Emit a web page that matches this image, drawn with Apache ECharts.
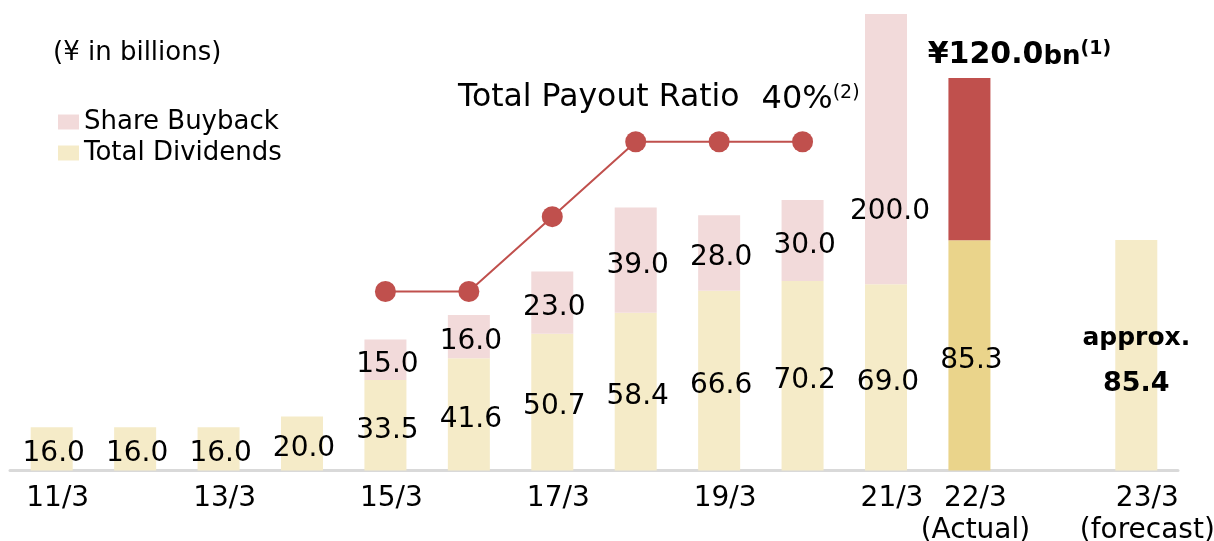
<!DOCTYPE html>
<html>
<head>
<meta charset="utf-8">
<script src="https://cdn.jsdelivr.net/npm/echarts@6/dist/echarts.min.js"></script>
<style>
  html, body { margin: 0; padding: 0; background: #ffffff; }
  #chart { width: 1214px; height: 541px; }
</style>
</head>
<body>
<div id="chart"></div>
<script>
// Fiscal years (March year-end); the blank slot separates actuals from the forecast
const categories = ['11/3', '12/3', '13/3', '14/3', '15/3', '16/3', '17/3', '18/3', '19/3', '20/3', '21/3', '22/3', '', '23/3'];
const tickLabels = ['11/3', '', '13/3', '', '15/3', '', '17/3', '', '19/3', '', '21/3', '22/3\n(Actual)', '', '23/3\n(forecast)'];

// ¥ in billions
const totalDividends = [16.0, 16.0, 16.0, 20.0, 33.5, 41.6, 50.7, 58.4, 66.6, 70.2, 69.0, 85.3, null, 85.4];
const shareBuyback = [null, null, null, null, 15.0, 16.0, 23.0, 39.0, 28.0, 30.0, 200.0, 120.0, null, null];

// Total payout ratio, %
const payoutRatio = [null, null, null, null, 20, 20, 30, 40, 40, 40, null, null, null, null];

const FONT = 'DejaVu Sans';
const C_DIV = '#F5EBC8';
const C_DIV_HI = '#EAD48B';
const C_BUY = '#F2DADA';
const C_BUY_HI = '#C0504D';
const C_LINE = '#C0504D';

const fmt = v => Number(v).toFixed(1);

const ACTUAL_IDX = categories.indexOf('22/3');
const FORECAST_IDX = categories.indexOf('23/3');
const BIG_BUYBACK_IDX = categories.indexOf('21/3');
const LAST_RATIO_IDX = payoutRatio.reduce((acc, v, i) => (v != null ? i : acc), -1);

const dividendData = totalDividends.map((v, i) => {
  if (v == null) return null;
  const item = { value: v };
  if (i === ACTUAL_IDX) item.itemStyle = { color: C_DIV_HI };
  if (i === FORECAST_IDX) {
    item.label = {
      formatter: () => '{a|approx.}\n{b|' + fmt(v) + '}',
      offset: [0, 6],
      rich: {
        a: { fontFamily: FONT, fontSize: 25, fontWeight: 'bold', color: '#000', lineHeight: 45 },
        b: { fontFamily: FONT, fontSize: 27, fontWeight: 'bold', color: '#000', lineHeight: 45 }
      }
    };
  }
  return item;
});

const buybackData = shareBuyback.map((v, i) => {
  if (v == null) return null;
  const item = { value: v };
  if (i === BIG_BUYBACK_IDX) item.label = { offset: [4, 63] };
  if (i === ACTUAL_IDX) {
    item.itemStyle = { color: C_BUY_HI };
    item.label = {
      position: 'top',
      distance: 8,
      offset: [50, 0],
      formatter: () => '{a|¥' + fmt(v) + '}{b|bn}{c|(1)}',
      rich: {
        a: { fontFamily: FONT, fontSize: 30, fontWeight: 'bold', color: '#000', verticalAlign: 'bottom' },
        b: { fontFamily: FONT, fontSize: 26, fontWeight: 'bold', color: '#000', verticalAlign: 'bottom' },
        c: { fontFamily: FONT, fontSize: 19, fontWeight: 'bold', color: '#000', verticalAlign: 'top' }
      }
    };
  }
  return item;
});

const ratioData = payoutRatio.map((v, i) => {
  if (v == null) return null;
  const item = { value: v };
  if (i === LAST_RATIO_IDX) {
    item.label = {
      show: true,
      position: 'top',
      distance: 16,
      offset: [8, 0],
      formatter: () => '{p|' + v + '%}{s|(2)}',
      rich: {
        p: { fontFamily: FONT, fontSize: 32, color: '#000', verticalAlign: 'bottom' },
        s: { fontFamily: FONT, fontSize: 19, color: '#000', verticalAlign: 'top' }
      }
    };
  }
  return item;
});

const barLabel = {
  show: true,
  position: 'inside',
  offset: [2, 5],
  fontFamily: FONT,
  fontSize: 28,
  color: '#000',
  formatter: p => fmt(p.value)
};

const chart = echarts.init(document.getElementById('chart'), null, { renderer: 'canvas' });

chart.setOption({
  animation: false,
  backgroundColor: '#ffffff',
  textStyle: { fontFamily: FONT },
  grid: { left: 10, right: 36, top: 13, bottom: 70.5, containLabel: false, outerBoundsMode: 'none' },
  legend: {
    data: ['Share Buyback', 'Total Dividends'],
    orient: 'vertical',
    left: 58,
    top: 109,
    padding: 0,
    icon: 'rect',
    itemWidth: 21,
    itemHeight: 15,
    itemGap: 5,
    selectedMode: false,
    textStyle: { fontFamily: FONT, fontSize: 26, color: '#000' }
  },
  graphic: [
    {
      type: 'text', left: 53, top: 40,
      style: { text: '(¥ in billions)', fontFamily: FONT, fontSize: 26, fill: '#000' }
    },
    {
      type: 'text', left: 458, top: 82,
      style: { text: 'Total Payout Ratio', fontFamily: FONT, fontSize: 31.5, fill: '#000' }
    }
  ],
  xAxis: {
    type: 'category',
    data: categories,
    axisLine: { lineStyle: { color: '#D9D9D9', width: 3 } },
    axisTick: { show: false },
    axisLabel: {
      interval: 0,
      margin: 12,
      fontFamily: FONT,
      fontSize: 28,
      lineHeight: 32,
      color: '#000',
      formatter: (val, idx) => {
        const t = tickLabels[idx];
        if (!t) return '';
        const style = idx === FORECAST_IDX ? 'f' : 't';
        return t.split('\n').map(s => '{' + style + '|' + s + '}').join('\n');
      },
      rich: {
        t: { fontFamily: FONT, fontSize: 28, lineHeight: 32, color: '#000', padding: [0, 0, 0, 12] },
        f: { fontFamily: FONT, fontSize: 28, lineHeight: 32, color: '#000', padding: [0, 0, 0, 22] }
      }
    }
  },
  yAxis: [
    {
      type: 'value',
      show: false,
      min: 0,
      max: 270,
      // the two tallest stacks are compressed above 110
      breaks: [{ start: 110, end: 270, gap: 59.5 }],
      splitLine: { show: false }
    },
    {
      type: 'value',
      show: false,
      min: -3.9,
      max: 57.2,
      splitLine: { show: false }
    }
  ],
  series: [
    {
      name: 'Total Dividends',
      type: 'bar',
      stack: 'total',
      barWidth: 42,
      itemStyle: { color: C_DIV },
      label: barLabel,
      data: dividendData
    },
    {
      name: 'Share Buyback',
      type: 'bar',
      stack: 'total',
      barWidth: 42,
      itemStyle: { color: C_BUY },
      label: barLabel,
      data: buybackData
    },
    {
      name: 'Total Payout Ratio',
      type: 'line',
      yAxisIndex: 1,
      symbol: 'circle',
      symbolSize: 21,
      connectNulls: false,
      itemStyle: { color: C_LINE },
      lineStyle: { color: C_LINE, width: 2 },
      z: 5,
      data: ratioData
    }
  ]
});
</script>
</body>
</html>
